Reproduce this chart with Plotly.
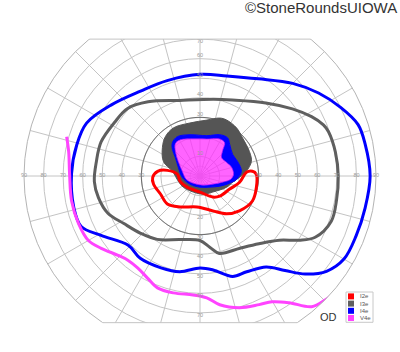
import numpy as np
import plotly.graph_objects as go

# ---------------- data (degrees of visual angle) ----------------
stimuli = ["I2e", "I3e", "I4e", "V4e"]
stim_colors = ["#ff0000", "#5f5f5f", "#0000ff", "#ff44ff"]

# I4e peripheral isopter (closed)
i4e_theta = [0, 11, 18, 26, 35, 45, 59, 75, 90, 109, 125, 141, 155, 166, 179, 194, 203, 211,
             224, 234, 247, 258, 270, 278, 288, 296, 306, 312, 317, 323, 330, 339, 349, 360]
i4e_r = [87, 86, 85, 80, 74, 67, 58, 53, 52, 51.6, 53, 58, 64, 65, 65.7, 66.5, 66, 59,
         51, 52, 51, 50, 47, 48.5, 54, 54.5, 57.5, 65, 73.5, 81, 85, 85.5, 86, 87]

# I3e peripheral isopter (closed)
i3e_theta = [0, 10, 19, 22.5, 28, 36, 48, 67, 80, 105, 125, 137, 148, 161, 172, 183, 192, 202,
             212, 224, 236, 253, 270, 278, 284, 299, 311, 321, 327, 332, 341, 350, 360]
i3e_r = [70.7, 70.3, 69.5, 68.3, 64.6, 58.4, 50.3, 42.2, 39.8, 40, 46.3, 50.6, 51.6, 53.5, 53.5,
         54.1, 53.1, 50.8, 45.9, 42.2, 39.1, 34, 33, 36.9, 40.8, 42.2, 45.9, 52.2, 60.3, 66.7,
         71, 70.9, 70.7]

# I2e isopter (closed loop below fixation)
i2e_theta = [173.7, 170.2, 175.6, 195, 220.8, 270, 301.4, 314.4, 336.2, 351, 364.5, 365.1, 361.7,
             348.8, 334.5, 318.6, 305.2, 290.3, 264.6, 237.4, 220.6, 204.5, 190, 181.6, 173.7]
i2e_r = [21.8, 16.9, 11.6, 10.5, 8.7, 8.2, 12.6, 14.4, 16.6, 20.5, 23.8, 26.9, 28.8,
         29.4, 29.7, 26.9, 23.6, 19.0, 15.9, 18.8, 22.0, 22.2, 24.1, 24.2, 21.8]

# central I3e area (filled)
i3e_c_theta = [5.8, 15.7, 26.3, 41.9, 52.8, 64.6, 71.2, 83, 100.7, 118.9, 131.4, 142.9, 158.4,
               170.3, 193.7, 213.5, 246.9, 279.3, 308.8, 337.3, 349.2, 358, 365.8]
i3e_c_r = [23.8, 27.3, 28.2, 29.2, 30.9, 31.7, 31.3, 28.8, 27.6, 28.1, 26.8, 24.1, 20.1,
           14.3, 11.4, 10.3, 8.9, 9.4, 10.5, 14.8, 17.0, 20.2, 23.8]

# central I4e area (filled)
i4e_c_theta = [6.5, 21.1, 33.4, 46.5, 54.1, 64.4, 80.4, 103.6, 120, 129.7, 136.2, 143.3, 158.4,
               184.4, 219.5, 270, 311.8, 332.8, 346.3, 354.8, 366.5]
i4e_c_r = [21.3, 20.6, 20.0, 22.1, 24.1, 23.4, 20.9, 21.7, 23.2, 22.1, 19.5, 15.7, 11.9,
           9.1, 6.6, 5.7, 7.6, 11.4, 15.6, 18.8, 21.3]

# central V4e area (filled)
v4e_c_theta = [3, 15.2, 27, 40.3, 48.2, 53.5, 62, 79.6, 97.5, 118.6, 127.4, 135.2, 146.3,
               165.2, 193.5, 226.6, 287.7, 327.5, 344.6, 353.8, 363]
v4e_c_r = [17.2, 16.8, 15.3, 14.5, 17.4, 21.2, 21.5, 19.3, 19.2, 21.1, 20.8, 17.7, 13.4,
           9.4, 7.3, 5.1, 4.9, 7.8, 12.0, 15.8, 17.2]

# V4e peripheral isopter (open)
v4e_theta = [163.6, 169.5, 179.2, 191, 201.4, 210, 216.2, 224.1, 229.4, 236, 242.8, 249.2,
             257.2, 266.7, 273.2, 278.7, 286.7, 294.7, 299.8, 305.1, 310.5, 315.4, 320.5]
v4e_r = [71.1, 68.3, 66.7, 66.9, 66.7, 65.9, 62.6, 58.3, 56.7, 56.8, 58.7, 61.2,
         61.3, 60.9, 62.4, 66.6, 70.3, 72.4, 74.1, 79.2, 87.9, 90.1, 91.7]

# tick labels
horiz_ticks = [30, 40, 50, 60, 70, 80, 90]
upper_ticks = [10, 30, 40, 50, 60, 70]
lower_ticks = [20, 30, 40, 50, 60, 70]

TOP_CLIP = 70
BOTTOM_CLIP = 75
RMAX = 90
GRID = "#c4c4c4"

col = dict(zip(stimuli, stim_colors))
fig = go.Figure()

circle_t = np.linspace(0, 360, 361)

# darker 30 deg circle and small central 5 deg circle
fig.add_trace(go.Scatterpolar(r=[30] * len(circle_t), theta=circle_t, mode="lines",
                              line=dict(color="#666666", width=1), hoverinfo="skip"))
fig.add_trace(go.Scatterpolar(r=[5] * len(circle_t), theta=circle_t, mode="lines",
                              line=dict(color=GRID, width=1), hoverinfo="skip"))

def ring(outer_t, outer_r, inner_t, inner_r):
    t = list(outer_t) + [None] + list(inner_t)[::-1]
    r = list(outer_r) + [None] + list(inner_r)[::-1]
    return t, r

# central I3e area (ring around I4e area)
t, r = ring(i3e_c_theta, i3e_c_r, i4e_c_theta, i4e_c_r)
fig.add_trace(go.Scatterpolar(r=r, theta=t, mode="lines", fill="toself",
                              fillcolor="#555555", line=dict(color="#555555", width=1, shape="spline"),
                              hoverinfo="skip"))
# central I4e area (ring around V4e area)
t, r = ring(i4e_c_theta, i4e_c_r, v4e_c_theta, v4e_c_r)
fig.add_trace(go.Scatterpolar(r=r, theta=t, mode="lines", fill="toself",
                              fillcolor="#0000ff", line=dict(color="#0000ff", width=1, shape="spline"),
                              hoverinfo="skip"))
# central V4e area (translucent so the grid shows through)
fig.add_trace(go.Scatterpolar(r=v4e_c_r, theta=v4e_c_theta, mode="lines", fill="toself",
                              fillcolor="rgba(255,40,255,0.72)",
                              line=dict(color="rgba(255,40,255,0.72)", width=0.5, shape="spline"),
                              hoverinfo="skip"))

# peripheral isopters
for name, th, rr in [("I3e", i3e_theta, i3e_r), ("I4e", i4e_theta, i4e_r),
                     ("I2e", i2e_theta, i2e_r), ("V4e", v4e_theta, v4e_r)]:
    fig.add_trace(go.Scatterpolar(r=rr, theta=th, mode="lines", name=name, cliponaxis=False,
                                  line=dict(color=col[name], width=3, shape="spline"),
                                  hoverinfo="skip"))

# tick labels
lab_font = dict(size=5.5, color="#9a9a9a", family="Liberation Sans, Arial")
fig.add_trace(go.Scatterpolar(r=horiz_ticks + horiz_ticks,
                              theta=[0] * len(horiz_ticks) + [180] * len(horiz_ticks),
                              mode="text", text=[str(v) for v in horiz_ticks + horiz_ticks],
                              textposition="middle center", textfont=lab_font, cliponaxis=False,
                              hoverinfo="skip"))
fig.add_trace(go.Scatterpolar(r=upper_ticks[:-1], theta=[90] * (len(upper_ticks) - 1),
                              mode="text", text=[str(v) for v in upper_ticks[:-1]],
                              textposition="top center", textfont=lab_font, cliponaxis=False,
                              hoverinfo="skip"))
fig.add_trace(go.Scatterpolar(r=upper_ticks[-1:], theta=[90],
                              mode="text", text=[str(upper_ticks[-1])],
                              textposition="bottom center", textfont=lab_font, cliponaxis=False,
                              hoverinfo="skip"))
fig.add_trace(go.Scatterpolar(r=lower_ticks, theta=[270] * len(lower_ticks),
                              mode="text", text=[str(v) for v in lower_ticks],
                              textposition="bottom center", textfont=lab_font, cliponaxis=False,
                              hoverinfo="skip"))

W, H = 400, 352
rad_px = min(W, H) / 2
rx = rad_px / W        # polar radius in paper-x units
ry = rad_px / H        # polar radius in paper-y units
top_y = 0.5 + ry * TOP_CLIP / RMAX
bot_y = 0.5 - ry * BOTTOM_CLIP / RMAX
top_hw = rx * np.sqrt(1 - (TOP_CLIP / RMAX) ** 2)
bot_hw = rx * np.sqrt(1 - (BOTTOM_CLIP / RMAX) ** 2)

shapes = [
    dict(type="rect", xref="paper", yref="paper", x0=-0.1, x1=1.1, y0=top_y, y1=1.1,
         fillcolor="white", line=dict(width=0), layer="above"),
    dict(type="rect", xref="paper", yref="paper", x0=-0.1, x1=1.1, y0=-0.1, y1=bot_y,
         fillcolor="white", line=dict(width=0), layer="above"),
    dict(type="line", xref="paper", yref="paper", x0=0.5 - top_hw, x1=0.5 + top_hw, y0=top_y, y1=top_y,
         line=dict(color=GRID, width=1), layer="above"),
    dict(type="line", xref="paper", yref="paper", x0=0.5 - bot_hw, x1=0.5 + bot_hw, y0=bot_y, y1=bot_y,
         line=dict(color=GRID, width=1), layer="above"),
]

# compact legend (bottom right)
lx0, lx1, ly_top = 346 / W, 373 / W, 1 - 292 / H
row_h = 7.2 / H
shapes.append(dict(type="rect", xref="paper", yref="paper", x0=lx0, x1=lx1,
                   y0=ly_top - 4 * row_h - 1.5 / H, y1=ly_top,
                   fillcolor="white", line=dict(color="#c8c8c8", width=1), layer="above"))
annotations = []
for i, (name, c) in enumerate(zip(stimuli, stim_colors)):
    yc = ly_top - (i + 0.5) * row_h - 0.8 / H
    shapes.append(dict(type="rect", xref="paper", yref="paper",
                       x0=348 / W, x1=354 / W, y0=yc - 3 / H, y1=yc + 3 / H,
                       fillcolor=c, line=dict(width=0), layer="above"))
    annotations.append(dict(x=358 / W, y=yc, xref="paper", yref="paper", text=name,
                            showarrow=False, xanchor="left", yanchor="middle",
                            font=dict(size=6, color="#555555", family="Liberation Sans, Arial")))

annotations.append(dict(x=399 / W, y=1 - 7 / H, xref="paper", yref="paper", text="©StoneRoundsUIOWA",
                        showarrow=False, xanchor="right", yanchor="middle",
                        font=dict(size=15, color="#333333", family="Liberation Sans, Arial")))
annotations.append(dict(x=328 / W, y=1 - 317 / H, xref="paper", yref="paper", text="OD",
                        showarrow=False, xanchor="center", yanchor="middle",
                        font=dict(size=11, color="#333333", family="Liberation Sans, Arial")))

fig.update_layout(
    width=W, height=H, margin=dict(l=0, r=0, t=0, b=0),
    paper_bgcolor="white", showlegend=False,
    polar=dict(
        domain=dict(x=[0, 1], y=[0, 1]), bgcolor="white",
        radialaxis=dict(range=[0, RMAX], dtick=10, showticklabels=False, ticks="",
                        gridcolor=GRID, gridwidth=1, showline=False),
        angularaxis=dict(rotation=0, direction="counterclockwise", dtick=15,
                         showticklabels=False, ticks="", gridcolor=GRID,
                         linecolor="#b4b4b4", linewidth=1),
    ),
    shapes=shapes, annotations=annotations,
)

fig.write_html("out.html")
